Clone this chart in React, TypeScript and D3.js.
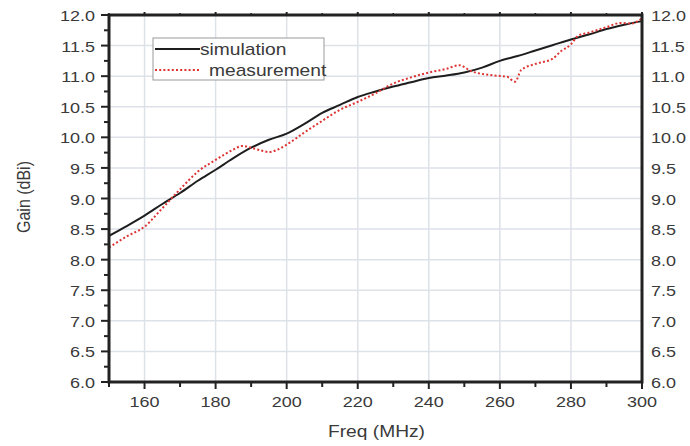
import React from "react";
import * as d3 from "d3";

const simFreq = [150,155,160,165,170,175,180,185,190,195,200,205,210,215,220,225,230,235,240,245,250,255,260,265,270,275,280,285,290,295,300];
const simGain = [8.39,8.55,8.72,8.91,9.09,9.29,9.47,9.66,9.83,9.96,10.06,10.22,10.40,10.53,10.66,10.75,10.83,10.90,10.97,11.01,11.06,11.14,11.25,11.33,11.42,11.51,11.60,11.68,11.77,11.84,11.90];

const measFreq = [150,155,160,165,170,175,180,185,187.5,190,192.5,195,197.5,200,205,210,215,220,225,230,235,240,245,248.5,252,257,262,264.3,266,270,275,277,280,282,285,290,294,297,300];
const measGain = [8.20,8.38,8.54,8.84,9.15,9.44,9.63,9.80,9.86,9.83,9.79,9.76,9.80,9.88,10.08,10.27,10.45,10.58,10.72,10.88,10.98,11.06,11.12,11.18,11.08,11.02,10.99,10.91,11.10,11.20,11.29,11.40,11.52,11.66,11.71,11.80,11.87,11.86,11.95];

const xMajor = [160,180,200,220,240,260,280,300];
const xMinor = [150,170,190,210,230,250,270,290];
const yMajor = [6.0,6.5,7.0,7.5,8.0,8.5,9.0,9.5,10.0,10.5,11.0,11.5,12.0];
const yMinor = [6.25,6.75,7.25,7.75,8.25,8.75,9.25,9.75,10.25,10.75,11.25,11.75];

const seriesNames = ["simulation", "measurement"];
const xTitle = "Freq (MHz)";
const yTitle = "Gain (dBi)";

const W = 690, H = 446;
const L = 109, R = 642, T = 15, B = 382;
const SX = 1.2;
const FONT = "'Liberation Sans', Arial, sans-serif";
const TXT = "#3a3a3a";

export default function App() {
  const x = d3.scaleLinear().domain([150, 300]).range([L, R]);
  const y = d3.scaleLinear().domain([6, 12]).range([B, T]);
  const line = d3.line<[number, number]>().x(d => x(d[0])).y(d => y(d[1])).curve(d3.curveMonotoneX);
  const simPath = line(simFreq.map((f, i) => [f, simGain[i]]))!;
  const measPath = line(measFreq.map((f, i) => [f, measGain[i]]))!;

  const st = (tx: number, ty: number) => `translate(${tx},${ty}) scale(${SX},1)`;

  return (
    <svg width={W} height={H} style={{ position: "fixed", left: 0, top: 0, background: "#fff" }} fontFamily={FONT}>
      <rect x={0} y={0} width={W} height={H} fill="#fff" />
      {/* grid */}
      {xMajor.filter(v => v < 300).map(v => (
        <line key={"gx" + v} x1={x(v)} x2={x(v)} y1={T} y2={B} stroke="#dde1e8" strokeWidth={1.5} />
      ))}
      {yMajor.filter(v => v > 6 && v < 12).map(v => (
        <line key={"gy" + v} x1={L} x2={R} y1={y(v)} y2={y(v)} stroke="#dde1e8" strokeWidth={1.5} />
      ))}
      {/* data */}
      <path d={simPath} fill="none" stroke="#1e1e1e" strokeWidth={2} />
      <path d={measPath} fill="none" stroke="#dd3333" strokeWidth={2} strokeDasharray="2 2.2" />
      {/* frame */}
      <rect x={L} y={T} width={R - L} height={B - T} fill="none" stroke="#222" strokeWidth={3} />
      {/* left ticks */}
      {yMajor.map(v => (
        <line key={"ly" + v} x1={L - 8} x2={L} y1={y(v)} y2={y(v)} stroke="#222" strokeWidth={2} />
      ))}
      {yMinor.map(v => (
        <line key={"lym" + v} x1={L - 5} x2={L} y1={y(v)} y2={y(v)} stroke="#222" strokeWidth={2} />
      ))}
      {/* bottom ticks */}
      {xMajor.map(v => (
        <line key={"bx" + v} x1={x(v)} x2={x(v)} y1={B} y2={B + 7} stroke="#222" strokeWidth={2} />
      ))}
      {xMinor.map(v => (
        <line key={"bxm" + v} x1={x(v)} x2={x(v)} y1={B} y2={B + 5} stroke="#222" strokeWidth={2} />
      ))}
      {/* top ticks */}
      {xMajor.map(v => (
        <line key={"tx" + v} x1={x(v)} x2={x(v)} y1={T} y2={T - 3} stroke="#222" strokeWidth={2} />
      ))}
      {xMinor.map(v => (
        <line key={"txm" + v} x1={x(v)} x2={x(v)} y1={T} y2={T - 2} stroke="#222" strokeWidth={1.5} />
      ))}
      {/* left labels */}
      {yMajor.map(v => (
        <text key={"lt" + v} transform={st(L - 14, y(v) + 6)} textAnchor="end" fontSize={15} fill={TXT}>{v.toFixed(1)}</text>
      ))}
      {/* right labels */}
      {yMajor.map(v => (
        <text key={"rt" + v} transform={st(R + 9, y(v) + 6)} textAnchor="start" fontSize={15} fill={TXT}>{v.toFixed(1)}</text>
      ))}
      {/* bottom labels */}
      {xMajor.map(v => (
        <text key={"bt" + v} transform={st(x(v), B + 25)} textAnchor="middle" fontSize={15} fill={TXT}>{v}</text>
      ))}
      {/* titles */}
      <text transform={st((L + R) / 2 + 1, 437)} textAnchor="middle" fontSize={16} fill={TXT}>{xTitle}</text>
      <text transform={`translate(30,197) rotate(-90) scale(1,${SX})`} textAnchor="middle" fontSize={16} fill={TXT}>{yTitle}</text>
      {/* legend */}
      <rect x={153} y={38} width={171} height={42} fill="#fff" stroke="#9a9a9a" strokeWidth={1} />
      <line x1={155} x2={200} y1={49} y2={49} stroke="#1e1e1e" strokeWidth={2} />
      <line x1={155} x2={199} y1={70} y2={70} stroke="#dd3333" strokeWidth={2} strokeDasharray="2 2.2" />
      <text transform={st(200, 55)} fontSize={16} fill={TXT}>{seriesNames[0]}</text>
      <text transform={st(209, 76)} fontSize={16} fill={TXT}>{seriesNames[1]}</text>
    </svg>
  );
}
